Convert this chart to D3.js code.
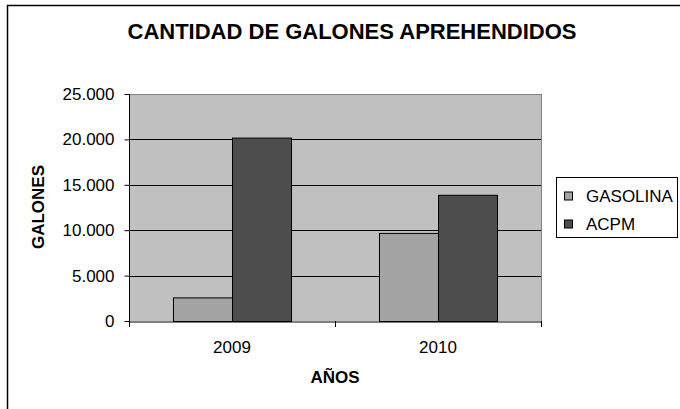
<!DOCTYPE html>
<html>
<head>
<meta charset="utf-8">
<script src="https://cdn.jsdelivr.net/npm/d3@7"></script>
<style>
  body { margin: 0; background: #fff; }
  svg { display: block; font-family: Arial, "Liberation Sans", sans-serif; }
</style>
</head>
<body>
<div id="chart"></div>
<script>
var years = ['2009', '2010'];
var seriesNames = ['GASOLINA', 'ACPM'];
var gasolina = [2600, 9700];
var acpm = [20200, 13900];
var yTicks = [0, 5000, 10000, 15000, 20000, 25000];

var colors = { GASOLINA: '#a3a3a3', ACPM: '#4d4d4d' };
var margin = { top: 94, left: 129 };
var width = 412, height = 227;

var rows = years.map(function (y, i) {
  return { year: y, values: [{ key: 'GASOLINA', v: gasolina[i] }, { key: 'ACPM', v: acpm[i] }] };
});

var svg = d3.select('#chart').append('svg').attr('width', 680).attr('height', 409);

// outer frame
svg.append('rect').attr('x', 7.5).attr('y', 5.5).attr('width', 700).attr('height', 420)
  .attr('fill', '#fff').attr('stroke', '#000').attr('stroke-width', 1.5);

svg.append('text').attr('x', 352).attr('y', 39).attr('text-anchor', 'middle')
  .style('font-size', '22px').style('font-weight', 'bold').text('CANTIDAD DE GALONES APREHENDIDOS');

var x = d3.scaleBand().domain(years).range([0, width]);
var x1 = d3.scaleBand().domain(seriesNames).range([0, x.bandwidth()]).paddingInner(0).paddingOuter(0.745);
var y = d3.scaleLinear().domain([0, 25000]).range([height, 0]);

var g = svg.append('g').attr('transform', 'translate(' + margin.left + ',' + margin.top + ')');

g.append('rect').attr('width', width).attr('height', height).attr('fill', '#c0c0c0');

g.selectAll('.grid').data(yTicks.slice(1)).enter().append('line')
  .attr('x1', 0).attr('x2', width)
  .attr('y1', function (d) { return Math.round(y(d)) + 0.5; })
  .attr('y2', function (d) { return Math.round(y(d)) + 0.5; })
  .attr('stroke', function (d) { return d === 25000 ? '#808080' : '#000'; });

// right border of plot area
g.append('line').attr('x1', width + 0.5).attr('x2', width + 0.5).attr('y1', 0).attr('y2', height)
  .attr('stroke', '#808080');

g.selectAll('.grp').data(rows).enter().append('g')
  .attr('transform', function (d) { return 'translate(' + x(d.year) + ',0)'; })
  .selectAll('rect').data(function (d) { return d.values; }).enter().append('rect')
  .attr('x', function (d) { return x1(d.key) + 0.5; })
  .attr('y', function (d) { return y(d.v) + 0.5; })
  .attr('width', x1.bandwidth())
  .attr('height', function (d) { return height - y(d.v); })
  .attr('fill', function (d) { return colors[d.key]; })
  .attr('stroke', '#000');

var fmt = function (d) { return d === 0 ? '0' : d3.format(',')(d).replace(/,/g, '.'); };

var yAxis = g.append('g').attr('transform', 'translate(0.5,0)')
  .call(d3.axisLeft(y).tickValues(yTicks).tickFormat(fmt).tickSize(5).tickPadding(10));
var xAxis = g.append('g').attr('transform', 'translate(0,' + (height + 0.5) + ')')
  .call(d3.axisBottom(x).tickSize(0).tickPadding(19));
// tick marks between categories
g.selectAll('.xt').data([0, width / 2, width]).enter().append('line')
  .attr('x1', function (d) { return Math.round(d) + 0.5; }).attr('x2', function (d) { return Math.round(d) + 0.5; })
  .attr('y1', height).attr('y2', height + 6).attr('stroke', '#000');

[yAxis, xAxis].forEach(function (a) {
  a.selectAll('text').style('font-size', '17px').style('font-family', 'Arial, "Liberation Sans", sans-serif').attr('fill', '#000');
  a.selectAll('line').attr('stroke', '#000');
  a.select('.domain').attr('stroke', '#000');
});
yAxis.select('.domain').attr('d', 'M0,0V' + height);

svg.append('text').attr('x', 335).attr('y', 383).attr('text-anchor', 'middle')
  .style('font-size', '17px').style('font-weight', 'bold').text('AÑOS');
svg.append('text').attr('transform', 'translate(43.5,207) rotate(-90)').attr('text-anchor', 'middle')
  .style('font-size', '17px').style('font-weight', 'bold').text('GALONES');

// legend
var lg = svg.append('g').attr('transform', 'translate(556.5,177.5)');
lg.append('rect').attr('width', 121).attr('height', 60).attr('fill', '#fff').attr('stroke', '#000');
lg.selectAll('.it').data(seriesNames).enter().append('g')
  .attr('transform', function (d, i) { return 'translate(8,' + (14.5 + i * 28) + ')'; })
  .each(function (d) {
    var s = d3.select(this);
    s.append('rect').attr('width', 8).attr('height', 8).attr('fill', colors[d]).attr('stroke', '#000');
    s.append('text').attr('x', 21.5).attr('y', 9.5).style('font-size', '17px').text(d);
  });
</script>
</body>
</html>
